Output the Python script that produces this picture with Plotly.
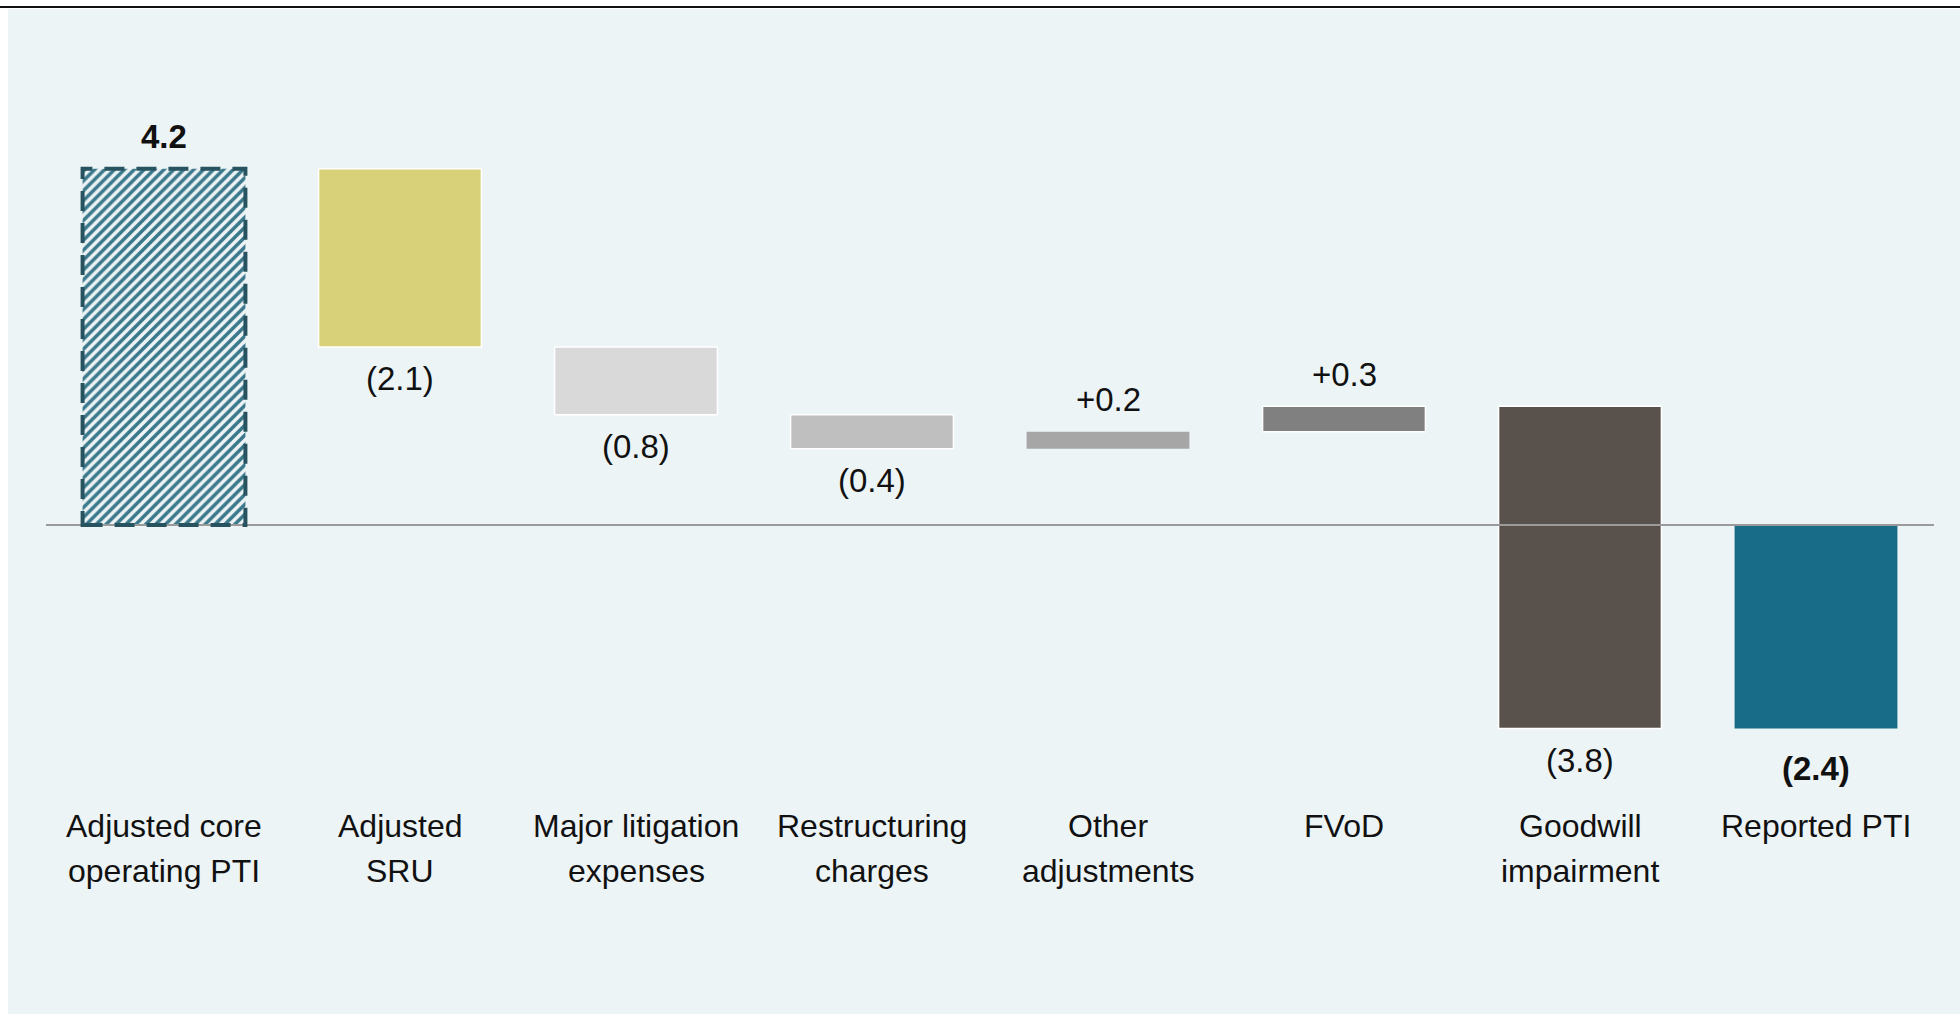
import plotly.graph_objects as go

# Bridge from adjusted core operating PTI to reported PTI (CHF bn)
categories = [
    "Adjusted core<br>operating PTI",
    "Adjusted<br>SRU",
    "Major litigation<br>expenses",
    "Restructuring<br>charges",
    "Other<br>adjustments",
    "FVoD",
    "Goodwill<br>impairment",
    "Reported PTI",
]
start_value = 4.2
deltas = [-2.1, -0.8, -0.4, 0.2, 0.3, -3.8]
bar_colors = ["#e9f1f3", "#d8d17a", "#d9d9d9", "#bfbfbf", "#a6a6a6",
              "#808080", "#59514c", "#186c87"]
bold_labels = [True, False, False, False, False, False, False, True]

W, H = 1960, 1014
PLOT_L, PLOT_R = 46, 1934
PLOT_T, PLOT_B = 40, 800
ZERO_PX = 525
PX_PER_UNIT = 84.8
y_top = (ZERO_PX - PLOT_T) / PX_PER_UNIT
y_bot = -(PLOT_B - ZERO_PX) / PX_PER_UNIT
LABEL_LINE_PX = [826, 871]

# waterfall geometry: bases and heights
total = start_value + sum(deltas)
bases, heights = [0.0], [start_value]
level = start_value
for d in deltas:
    bases.append(level)
    heights.append(d)
    level += d
bases.append(0.0)
heights.append(total)

x_idx = list(range(len(categories)))
BAR_W = 0.69

fig = go.Figure()

line_widths = [0, 1.5, 1.5, 1.5, 0, 1.5, 1.5, 0]
fig.add_trace(go.Bar(
    x=x_idx, y=heights, base=bases, width=[BAR_W] * len(x_idx),
    marker=dict(
        color=bar_colors,
        line=dict(color="white", width=line_widths),
    ),
    hoverinfo="skip", showlegend=False,
))
# hatched fill for the opening bar
fig.add_trace(go.Bar(
    x=[0], y=[heights[0]], base=[bases[0]], width=[BAR_W],
    marker=dict(
        color="#eef4f6",
        line=dict(width=0),
        pattern=dict(shape="/", fgcolor="#3a788b", bgcolor="#eef4f6",
                     size=7, solidity=0.5, fillmode="replace"),
    ),
    hoverinfo="skip", showlegend=False,
))

def fmt(i, v):
    if i == 0 or i == len(categories) - 1:
        s = f"{abs(v):.1f}" if v >= 0 else f"({abs(v):.1f})"
    else:
        s = f"+{v:.1f}" if v > 0 else f"({abs(v):.1f})"
    return f"<b>{s}</b>" if bold_labels[i] else s

annotations = []
for i in x_idx:
    b, h = bases[i], heights[i]
    top, bottom = max(b, b + h), min(b, b + h)
    above = h > 0
    shift = 32 if above else -(40 if i == len(x_idx) - 1 else 32)
    annotations.append(dict(
        x=i, y=top if above else bottom, xref="x", yref="y",
        text=fmt(i, h), showarrow=False, yanchor="middle", yshift=shift,
        font=dict(size=33, color="#111111"),
    ))
    for line_txt, ypx in zip(categories[i].split("<br>"), LABEL_LINE_PX):
        annotations.append(dict(
            x=i, y=1 - ypx / H, xref="x", yref="paper",
            text=line_txt, showarrow=False, yanchor="middle", align="center",
            font=dict(size=32, color="#111111"),
        ))

shapes = [
    # panel background
    dict(type="rect", xref="paper", yref="paper", x0=8 / W, x1=1, y0=0, y1=1 - 9 / H,
         fillcolor="#edf4f6", line=dict(width=0), layer="below"),
    # top rule
    dict(type="line", xref="paper", yref="paper", x0=0, x1=1,
         y0=1 - 7 / H, y1=1 - 7 / H, line=dict(color="#111111", width=2)),
    # zero line
    dict(type="line", xref="x domain", yref="y", x0=0, x1=1, y0=0, y1=0,
         line=dict(color="#9a9a9a", width=2), layer="above"),
    # dashed outline of the opening bar
    dict(type="rect", xref="x", yref="y", x0=-BAR_W / 2, x1=BAR_W / 2,
         y0=bases[0], y1=bases[0] + heights[0],
         line=dict(color="#26535f", width=4, dash="20px,12px"), layer="above"),
]

fig.update_layout(
    width=W, height=H,
    margin=dict(l=0, r=0, t=0, b=0),
    paper_bgcolor="white", plot_bgcolor="rgba(0,0,0,0)",
    font=dict(family="Liberation Sans, Arial, sans-serif", color="#111111"),
    barmode="overlay",
    xaxis=dict(domain=[PLOT_L / W, PLOT_R / W], range=[-0.5, len(x_idx) - 0.5],
               showgrid=False, zeroline=False, showticklabels=False, fixedrange=True),
    yaxis=dict(domain=[1 - PLOT_B / H, 1 - PLOT_T / H], range=[y_bot, y_top],
               showgrid=False, zeroline=False, showticklabels=False, fixedrange=True),
    shapes=shapes, annotations=annotations,
)

fig.write_html("out.html", config={"displayModeBar": False})
